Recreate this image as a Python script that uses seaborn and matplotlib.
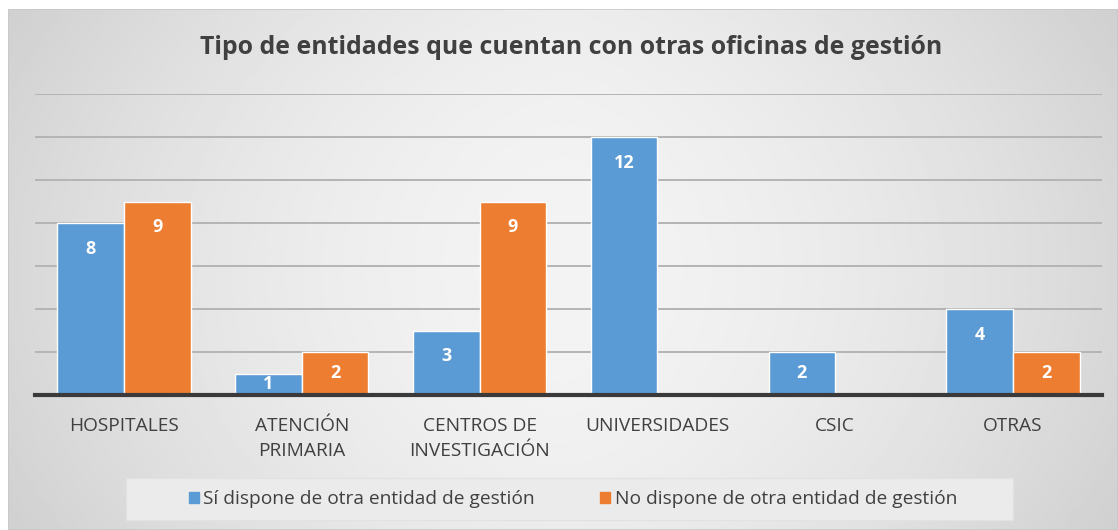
import numpy as np
import pandas as pd
import matplotlib
matplotlib.use("Agg")
import matplotlib.pyplot as plt
import seaborn as sns

# data
categorias = ["HOSPITALES", "ATENCIÓN\nPRIMARIA", "CENTROS DE\nINVESTIGACIÓN",
              "UNIVERSIDADES", "CSIC", "OTRAS"]
si_dispone = [8, 1, 3, 12, 2, 4]
no_dispone = [9, 2, 9, 0, 0, 2]
series = ["Sí dispone de otra entidad de gestión", "No dispone de otra entidad de gestión"]
titulo = "Tipo de entidades que cuentan con otras oficinas de gestión"

colores = ["#5B9BD5", "#ED7D31"]

df = pd.DataFrame({
    "categoria": categorias * 2,
    "serie": [series[0]] * len(categorias) + [series[1]] * len(categorias),
    "valor": si_dispone + no_dispone,
})

sns.set_style("white")
plt.rcParams["font.family"] = ["Open Sans", "DejaVu Sans"]

W, H = 1118, 530
fig = plt.figure(figsize=(W / 100, H / 100), dpi=100)
fig.patch.set_facecolor("white")

# gray gradient background like the office chart
bg = fig.add_axes([8 / W, 0, 1 - 8 / W, (H - 9) / H], zorder=-5)
gx = np.linspace(-1, 1, 400)
gy = np.linspace(-1, 1, 200)
X, Y = np.meshgrid(gx, gy)
shade = 0.955 - 0.11 * (np.abs(X) ** 1.6) - 0.03 * (Y ** 2)
bg.imshow(shade, cmap="gray", vmin=0, vmax=1, aspect="auto", extent=[0, 1, 0, 1])
bg.set_axis_off()
bg.add_patch(plt.Rectangle((0, 0), 1, 1, transform=bg.transAxes, fill=False,
                           edgecolor="#c8c8c8", lw=1.2))
# lighter box behind the legend
fig.patches.append(plt.Rectangle((126 / W, (H - 520) / H), (1013 - 126) / W, 42 / H,
                                 transform=fig.transFigure, facecolor="#ebebeb",
                                 edgecolor="#e2e2e2", lw=1, zorder=-4))

ax = fig.add_axes([35 / W, (H - 395) / H, (1102 - 35) / W, (395 - 94) / H])
ax.set_facecolor("none")

sns.barplot(data=df, x="categoria", y="valor", hue="serie", order=categorias,
            hue_order=series, palette=colores, width=0.75, gap=0,
            edgecolor="white", linewidth=1, saturation=1, ax=ax, zorder=3)

ax.set_ylim(0, 14)
ax.set_yticks(np.arange(0, 15, 2))
ax.yaxis.grid(True, color="#b4b4b4", lw=1.4, zorder=0)
ax.set_axisbelow(True)
ax.tick_params(axis="y", left=False, labelleft=False)
ax.tick_params(axis="x", bottom=False, labelsize=13.8, colors="#404040", pad=12)
for lab in ax.get_xticklabels():
    lab.set_linespacing(1.55)
for s in ["top", "right", "left"]:
    ax.spines[s].set_visible(False)
ax.spines["bottom"].set_color("#3a3a3a")
ax.spines["bottom"].set_linewidth(3)
ax.spines["bottom"].set_zorder(4)
ax.set_xlabel("")
ax.set_ylabel("")
ax.set_xlim(-0.5, len(categorias) - 0.5)

# value labels inside the bar tops
for cont, vals in zip(ax.containers, [si_dispone, no_dispone]):
    for bar, v in zip(cont, vals):
        if v == 0:
            continue
        cx = bar.get_x() + bar.get_width() / 2
        ax.text(cx, v - min(1.2, v * 0.5), str(v), ha="center", va="center",
                color="white", fontsize=13, fontweight="bold", zorder=5)

fig.text(571 / W, (H - 47) / H, titulo, ha="center", va="center",
         fontsize=17.9, fontweight="bold", color="#404040")

ax.legend_.remove()
handles = [plt.Rectangle((0, 0), 1, 1, color=c) for c in colores]
leg = fig.legend(handles, series, loc="center", bbox_to_anchor=(573 / W, (H - 499) / H),
                 ncol=2, frameon=False, fontsize=13.8, handlelength=0.5, handleheight=0.5,
                 handletextpad=0.25, columnspacing=3.4, borderaxespad=0)
for t in leg.get_texts():
    t.set_color("#404040")

fig.savefig("out.png", dpi=100, facecolor="white")
